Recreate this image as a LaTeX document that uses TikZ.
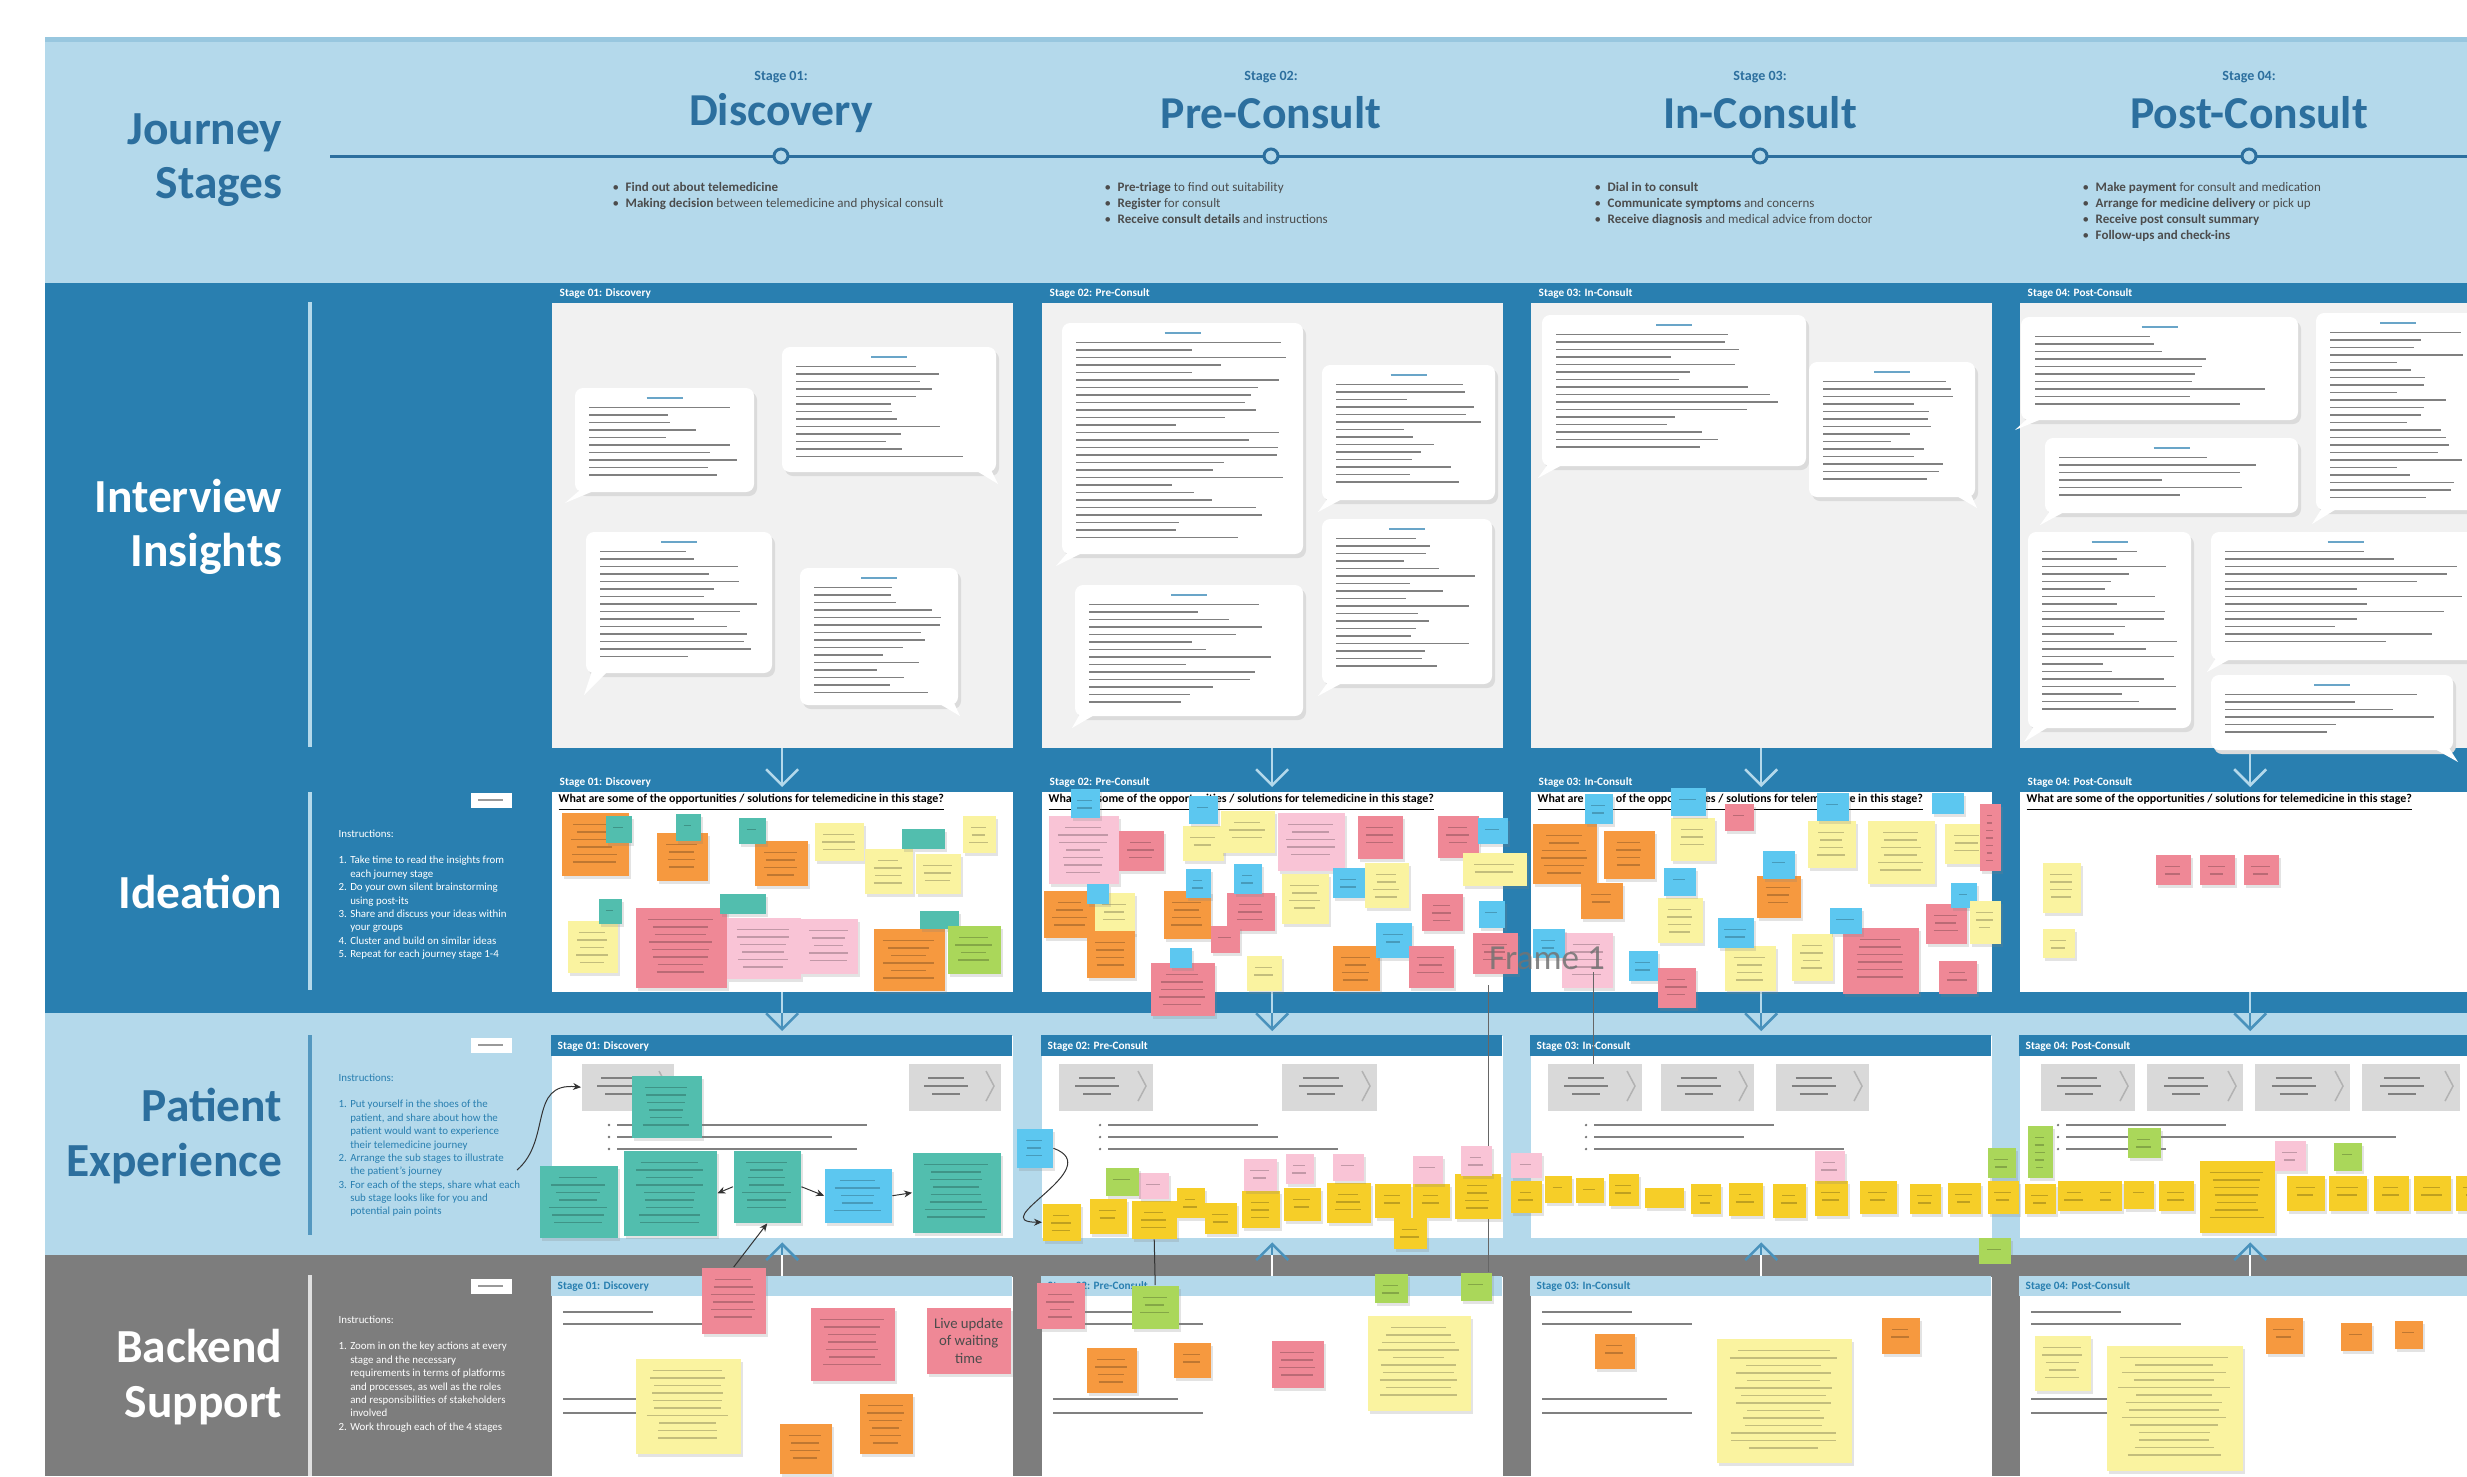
\documentclass[tikz,border=0pt]{standalone}
\usepackage{fontspec}
\setmainfont{Carlito}
\usetikzlibrary{arrows.meta,shadows}
\definecolor{claro}{RGB}{180,217,235}
\definecolor{oscuro}{RGB}{41,127,176}
\definecolor{gris}{RGB}{125,125,125}
\definecolor{titulo}{RGB}{44,111,158}
\definecolor{fondo}{RGB}{241,241,241}
\definecolor{naranja}{RGB}{246,153,63}
\definecolor{verdeazul}{RGB}{82,190,174}
\definecolor{amarillo}{RGB}{250,243,160}
\definecolor{rojo}{RGB}{239,136,150}
\definecolor{rosa}{RGB}{249,196,214}
\definecolor{celeste}{RGB}{92,199,240}
\definecolor{verde}{RGB}{170,215,90}
\definecolor{oro}{RGB}{246,206,40}
\definecolor{cajagris}{RGB}{217,217,217}
% notas adhesivas
\newcommand\notas[2]{%
  \foreach \xa/\ya/\xb/\yb/\cl [count=\nn] in {#2}{%
    \pgfmathsetmacro\nw{(\xb-\xa)/10}\pgfmathsetmacro\nh{(\yb-\ya)/10}%
    \node[nota=\cl,minimum width=\nw mm,minimum height=\nh mm] (#1\nn) at (\xa,\ya) {};
    \pgfmathtruncatemacro\nt{(\yb-\ya-14)/7.5}%
    \ifnum\nt>0
      \foreach \tl in {1,...,\nt}{\pgfmathsetmacro\lg{(\xb-\xa-12)*(.28+.17*rnd)}
        \draw[black,opacity=.22,line width=.11mm] ({(\xa+\xb)/2-\lg},\ya+5+\tl*7.5) -- ({(\xa+\xb)/2+\lg},\ya+5+\tl*7.5);}
    \fi}}
% globos de texto
\newcommand\globo[7]{%
  \fill[black!14,rounded corners=.8mm] (#1+3,#2+4) rectangle (#3+3,#4+4);
  \fill[white,rounded corners=.8mm] (#1,#2) rectangle (#3,#4);
  \fill[white] (#5,#4-2) -- (#6,#7) -- (#5+16,#4-2) -- cycle;
  \draw[linea,oscuro!70] ({(#1+#3)/2-18},#2+10) -- ++(36,0);
  \pgfmathtruncatemacro\nl{(#4-#2-24)/7.5}
  \foreach \li in {1,...,\nl}{\pgfmathsetmacro\lg{(#3-#1-28)*(.45+.55*rnd)}
    \draw[linea] (#1+14,#2+12+\li*7.5) -- ++(\lg,0);}}
\newcommand\puntos[4]{%
  \foreach \yy/\ll in {1125/#2,1137/#3,1149/#4}{
    \fill[black!55] (#1-8,\yy) circle[radius=.13mm];
    \draw[linea] (#1,\yy) -- ++(\ll,0);}}
\begin{document}
\begin{tikzpicture}[x=.1mm,y=-.1mm,
  marco/.style={inner sep=0pt,anchor=north west,minimum width=46.1mm},
  nota/.style={fill=#1,inner sep=0pt,anchor=north west,
    drop shadow={opacity=.22,shadow xshift=.25mm,shadow yshift=-.35mm}},
  caja/.style={fill=cajagris,inner sep=0pt,anchor=north west,minimum height=4.7mm},
  linea/.style={black!50,line width=.16mm},
  flecha/.style={-{Straight Barb[length=1.6mm,width=3.2mm]},line width=.25mm},
  conn/.style={black!80,line width=.1mm,-{Stealth[length=.8mm,width=.7mm]}},
  etiqueta/.style={font=\fontsize{13.5}{15.4}\selectfont\bfseries,align=right,anchor=east,inner sep=0pt},
  instr/.style={font=\fontsize{3.1}{3.8}\selectfont,align=left,anchor=north west,inner sep=0pt},
  vinetas/.style={font=\fontsize{3.7}{4.55}\selectfont,text=black!70,align=left,anchor=north west,inner sep=0pt},
  rotulo/.style={font=\fontsize{3.2}{4}\selectfont\bfseries,inner sep=0pt,anchor=south west}]
\useasboundingbox (0,0) rectangle (2467,1476);
\clip (0,0) rectangle (2467,1476);
\pgfmathsetseed{7}
% Bandas
\fill[claro] (45,37) rectangle (2467,283);
\fill[claro!80!oscuro] (45,37) rectangle (2467,42);
\fill[oscuro] (45,283) rectangle (2467,1013);
\fill[claro] (45,1013) rectangle (2467,1255);
\fill[gris] (45,1255) rectangle (2467,1476);
\coordinate (banda) at (45,1013);
\coordinate (banda2) at (45,1255);
% Rotulos
\node[etiqueta,text=titulo] (lj) at (283,160) {Journey\\Stages};
\node[etiqueta,text=white] (li) at (283,527) {Interview\\Insights};
\node[etiqueta,text=white] (ld) at (283,892) {Ideation};
\node[etiqueta,text=titulo] (lp) at (283,1136) {Patient\\Experience};
\node[etiqueta,text=white] (lb) at (283,1377) {Backend\\Support};
\draw[claro,line width=.35mm] (310,302) -- (310,747) (310,792) -- (310,990);
\draw[oscuro!80,line width=.35mm] (310,1035) -- (310,1235);
\draw[black!12,line width=.35mm] (310,1275) -- (310,1476);
% Etapas
\draw[titulo,line width=.3mm] (330,156) -- (2467,156);
\foreach \cx/\num/\nom [count=\nn] in {781/01/Discovery,1271/02/Pre-Consult,1760/03/In-Consult,2249/04/Post-Consult}{
  \node[font=\fontsize{4}{5}\selectfont\bfseries,text=titulo] (sn\nn) at (\cx,77) {Stage \num:};
  \node[font=\fontsize{13}{15}\selectfont\bfseries,text=titulo] (st\nn) at (\cx,113) {\nom};
  \filldraw[fill=claro,draw=titulo,line width=.3mm] (\cx,156) circle[radius=.7mm];
}
\node[vinetas] (v1) at (612,182) {\textbullet\enspace\textbf{Find out about telemedicine}\\
  \textbullet\enspace\textbf{Making decision} between telemedicine and physical consult};
\node[vinetas] (v2) at (1104,182) {\textbullet\enspace\textbf{Pre-triage} to find out suitability\\
  \textbullet\enspace\textbf{Register} for consult\\
  \textbullet\enspace\textbf{Receive consult details} and instructions};
\node[vinetas] (v3) at (1594,182) {\textbullet\enspace\textbf{Dial in to consult}\\
  \textbullet\enspace\textbf{Communicate symptoms} and concerns\\
  \textbullet\enspace\textbf{Receive diagnosis} and medical advice from doctor};
\node[vinetas] (v4) at (2082,182) {\textbullet\enspace\textbf{Make payment} for consult and medication\\
  \textbullet\enspace\textbf{Arrange for medicine delivery} or pick up\\
  \textbullet\enspace\textbf{Receive post consult summary}\\
  \textbullet\enspace\textbf{Follow-ups and check-ins}};
% Marcos
\foreach \x/\nom [count=\nn] in {551/Stage 01: Discovery,1041/Stage 02: Pre-Consult,1530/Stage 03: In-Consult,2019/Stage 04: Post-Consult}{
  \node[marco,fill=fondo,minimum height=44.5mm] (ins\nn) at (\x,302) {};
  \node[marco,fill=white,minimum height=20mm] (ide\nn) at (\x,791) {};
  \node[marco,fill=white,minimum height=20.2mm] (pat\nn) at (\x,1035) {};
  \fill[oscuro] (pat\nn.north west) rectangle ++(461,21);
  \node[marco,fill=white,minimum height=20mm] (bak\nn) at (\x,1276) {};
  \fill[claro] (bak\nn.north west) rectangle ++(461,20);
  \node[rotulo,text=white] (ti\nn) at (\x+8,299) {\nom};
  \node[rotulo,text=white] (td\nn) at (\x+8,788) {\nom};
  \node[rotulo,text=white,anchor=west] (tp\nn) at (\x+6,1046) {\nom};
  \node[rotulo,text=oscuro,anchor=west] (tb\nn) at (\x+6,1286) {\nom};
  \node[font=\fontsize{3.4}{4}\selectfont\bfseries,inner sep=0pt,anchor=west] (pq\nn) at (\x+7,803)
    {\underline{What are some of the opportunities / solutions for telemedicine in this stage?}};
  \draw[flecha,claro] (ins\nn.south) -- ([yshift=.4mm]ide\nn.north);
  \draw[claro,line width=.25mm] (ide\nn.south) -- (ide\nn.south |- banda);
  \draw[flecha,oscuro!85] (ide\nn.south |- banda) -- ([yshift=.4mm]pat\nn.north);
  \draw[white,line width=.25mm] (bak\nn.north) -- (bak\nn.north |- banda2);
  \draw[flecha,oscuro!85] (bak\nn.north |- banda2) -- ([yshift=-.4mm]pat\nn.south);
  \draw[linea] (\x+12,1312) -- ++(90,0) (\x+12,1324) -- ++(150,0)
    (\x+12,1399) -- ++(125,0) (\x+12,1413) -- ++(150,0);
}
% Botones e instrucciones
\foreach \yy [count=\nn] in {792,1037,1278}{
  \node[fill=white,inner sep=0pt,anchor=north west,minimum width=4.1mm,minimum height=1.5mm] (bt\nn) at (470,\yy) {};
  \draw[black!40,line width=.12mm] (478,\yy+8) -- ++(25,0);
}
\node[instr,text=white] (in1) at (338,829) {Instructions:\\[3.8pt]
  1. Take time to read the insights from\\ \phantom{1. }each journey stage\\
  2. Do your own silent brainstorming\\ \phantom{2. }using post-its\\
  3. Share and discuss your ideas within\\ \phantom{3. }your groups\\
  4. Cluster and build on similar ideas\\
  5. Repeat for each journey stage 1-4};
\node[instr,text=oscuro] (in2) at (338,1073) {Instructions:\\[3.8pt]
  1. Put yourself in the shoes of the\\ \phantom{1. }patient, and share about how the\\
  \phantom{1. }patient would want to experience\\ \phantom{1. }their telemedicine journey\\
  2. Arrange the sub stages to illustrate\\ \phantom{2. }the patient's journey\\
  3. For each of the steps, share what each\\ \phantom{3. }sub stage looks like for you and\\
  \phantom{3. }potential pain points};
\node[instr,text=white] (in3) at (338,1315) {Instructions:\\[3.8pt]
  1. Zoom in on the key actions at every\\ \phantom{1. }stage and the necessary\\
  \phantom{1. }requirements in terms of platforms\\ \phantom{1. }and processes, as well as the roles\\
  \phantom{1. }and responsibilities of stakeholders\\ \phantom{1. }involved\\
  2. Work through each of the 4 stages};
% Entrevistas
\globo{575}{388}{754}{492}{580}{565}{503}
\globo{782}{347}{996}{472}{975}{998}{484}
\globo{586}{532}{772}{673}{592}{584}{695}
\globo{800}{568}{958}{705}{938}{960}{716}
\globo{1062}{323}{1303}{554}{1068}{1056}{566}
\globo{1322}{365}{1495}{500}{1328}{1318}{512}
\globo{1075}{585}{1303}{716}{1080}{1072}{728}
\globo{1322}{519}{1492}{684}{1328}{1318}{696}
\globo{1542}{315}{1806}{466}{1548}{1538}{478}
\globo{1809}{362}{1975}{497}{1955}{1977}{508}
\globo{2021}{317}{2298}{420}{2028}{2015}{430}
\globo{2045}{438}{2298}{513}{2050}{2040}{525}
\globo{2316}{313}{2480}{510}{2322}{2312}{524}
\globo{2028}{532}{2191}{728}{2034}{2024}{742}
\globo{2211}{532}{2480}{660}{2216}{2207}{672}
\globo{2211}{675}{2453}{750}{2433}{2458}{762}
% Ideacion
\notas{ia}{561/812/628/875/naranja,605/815/631/842/verdeazul,656/832/707/880/naranja,675/813/700/840/verdeazul,
  754/840/807/885/naranja,738/817/765/843/verdeazul,814/822/863/860/amarillo,864/848/912/893/amarillo,
  901/828/944/848/verdeazul,915/853/960/893/amarillo,962/815/995/852/amarillo,567/920/617/972/amarillo,
  598/898/621/923/verdeazul,635/907/726/987/rojo,726/917/800/978/rosa,719/893/765/913/verdeazul,
  800/918/857/973/rosa,873/928/944/990/naranja,919/910/958/928/verdeazul,947/925/1000/973/verde}
\notas{ib}{1048/815/1118/883/rosa,1070/788/1099/817/celeste,1118/830/1163/870/rojo,1182/825/1223/860/amarillo,
  1188/795/1217/823/celeste,1220/810/1274/852/amarillo,1277/812/1344/870/rosa,1357/815/1402/858/rojo,
  1437/815/1478/857/rojo,1477/817/1507/843/celeste,1462/852/1526/885/amarillo,1043/890/1096/937/naranja,
  1094/892/1134/933/amarillo,1086/883/1108/903/celeste,1086/930/1134/977/naranja,1163/890/1210/938/naranja,
  1185/868/1210/897/celeste,1226/892/1274/930/rojo,1233/863/1261/893/celeste,1210/925/1239/952/rojo,
  1150/962/1214/1015/rojo,1169/947/1191/967/celeste,1246/955/1281/990/amarillo,1281/873/1328/923/amarillo,
  1332/867/1364/897/celeste,1364/862/1408/907/amarillo,1421/893/1462/930/rojo,1478/900/1504/927/celeste,
  1332/945/1379/990/naranja,1375/922/1411/957/celeste,1408/945/1453/987/rojo,1472/932/1517/973/rojo}
\notas{ic}{1532/823/1596/883/naranja,1584/793/1612/823/celeste,1603/830/1654/878/naranja,1580/882/1622/918/naranja,
  1670/817/1714/860/amarillo,1670/787/1705/815/celeste,1724/803/1753/830/rojo,1657/897/1702/942/amarillo,
  1663/867/1695/895/celeste,1756/875/1800/917/naranja,1762/850/1794/878/celeste,1807/820/1855/867/amarillo,
  1816/792/1848/820/celeste,1867/820/1934/883/amarillo,1944/823/1989/863/amarillo,1931/792/1963/813/celeste,
  1979/803/2000/870/rojo,1925/903/1966/943/rojo,1950/882/1976/907/celeste,1969/900/2000/943/amarillo,
  1724/945/1775/990/amarillo,1717/917/1753/947/celeste,1791/933/1832/980/amarillo,1842/927/1918/993/rojo,
  1829/907/1861/933/celeste,1938/960/1976/993/rojo,1561/932/1612/987/rosa,1532/928/1564/957/celeste,
  1628/950/1657/980/celeste,1657/967/1695/1007/rojo}
\notas{id}{2155/854/2190/884/rojo,2199/854/2234/884/rojo,2243/854/2278/884/rojo,2042/862/2080/912/amarillo,
  2042/928/2074/957/amarillo}
\node[font=\fontsize{10}{12}\selectfont,text=black!55,opacity=.85] (fr) at (1547,958) {Frame 1};
\draw[black!60,line width=.1mm] (1488,985) -- (1488,1272) (1593,972) -- (1593,1078);
% Experiencia del paciente
\foreach \xa/\xb [count=\nn] in {581/673,908/1000,1058/1152,1281/1376,1547/1641,1660/1753,1775/1868,
  2040/2134,2146/2242,2254/2349,2361/2459}{
  \pgfmathsetmacro\nw{(\xb-\xa)/10}
  \node[caja,minimum width=\nw mm] (cg\nn) at (\xa,1063) {};
  \draw[black!30,line width=.15mm] (\xb-14,1071) -- (\xb-6,1086) -- (\xb-14,1101);
  \draw[linea,line width=.13mm] ({(\xa+\xb)/2-26},1078) -- ++(36,0) ({(\xa+\xb)/2-30},1086) -- ++(44,0)
    ({(\xa+\xb)/2-22},1094) -- ++(28,0);
}
\puntos{617}{250}{215}{240}
\puntos{1108}{150}{170}{230}
\puntos{1594}{180}{150}{250}
\puntos{2066}{160}{330}{100}
\notas{pt}{631/1075/701/1137/verdeazul,539/1165/617/1237/verdeazul,623/1150/716/1235/verdeazul,
  733/1150/800/1222/verdeazul,824/1168/891/1222/celeste,912/1152/1000/1232/verdeazul,1016/1128/1052/1167/celeste}
\notas{pb}{1042/1203/1080/1240/oro,1089/1198/1126/1233/oro,1131/1200/1176/1238/oro,1176/1187/1204/1217/oro,
  1204/1202/1236/1233/oro,1241/1190/1279/1227/oro,1283/1187/1320/1220/oro,1326/1182/1370/1222/oro,
  1374/1183/1410/1217/oro,1412/1183/1449/1217/oro,1454/1173/1500/1218/oro,1393/1217/1426/1248/oro,
  1138/1172/1168/1198/rosa,1243/1158/1276/1190/rosa,1285/1153/1313/1183/rosa,1332/1153/1363/1180/rosa,
  1412/1155/1442/1183/rosa,1460/1145/1491/1175/rosa,1105/1167/1138/1195/verde}
\notas{pc}{1510/1152/1541/1177/rosa,1510/1180/1541/1212/oro,1544/1175/1571/1202/oro,1575/1177/1603/1202/oro,
  1608/1173/1638/1205/oro,1644/1187/1683/1207/oro,1690/1183/1720/1213/oro,1728/1182/1762/1215/oro,
  1772/1183/1805/1217/oro,1814/1180/1847/1215/oro,1814/1150/1844/1180/rosa,1859/1180/1896/1213/oro,
  1909/1183/1940/1213/oro,1947/1182/1980/1213/oro,1987/1147/2015/1177/verde,1987/1180/2018/1213/oro,
  1978/1237/2010/1263/verde}
\notas{pd}{2027/1125/2052/1177/verde,2024/1183/2055/1213/oro,2057/1180/2090/1210/oro,2090/1180/2121/1210/oro,
  2123/1180/2153/1208/oro,2127/1127/2160/1157/verde,2158/1180/2193/1210/oro,2199/1160/2274/1232/oro,
  2274/1140/2305/1170/rosa,2286/1175/2324/1210/oro,2333/1142/2361/1170/verde,2328/1175/2366/1210/oro,
  2373/1175/2408/1210/oro,2413/1175/2450/1210/oro,2455/1175/2490/1210/oro}
% Soporte
\notas{ka}{701/1267/765/1333/rojo,810/1307/894/1380/rojo,635/1358/740/1453/amarillo,779/1423/831/1473/naranja,
  859/1393/912/1453/naranja}
\node[nota=rojo,minimum width=8.4mm,minimum height=6.6mm,font=\fontsize{4.2}{5}\selectfont,text=black!70,
  align=center] (kl) at (926,1307) {Live update\\of waiting\\time};
\notas{kb}{1036/1282/1084/1328/rojo,1131/1285/1178/1328/verde,1086/1347/1136/1392/naranja,1173/1342/1210/1377/naranja,
  1271/1340/1323/1387/rojo,1367/1315/1470/1410/amarillo,1374/1273/1407/1302/verde,1460/1272/1491/1300/verde}
\notas{kc}{1594/1333/1634/1368/naranja,1716/1338/1851/1462/amarillo,1881/1317/1919/1353/naranja}
\notas{kd}{2034/1335/2090/1390/amarillo,2106/1345/2242/1470/amarillo,2265/1317/2302/1353/naranja,
  2340/1322/2371/1350/naranja,2394/1320/2422/1348/naranja}
% Conectores
\coordinate (ci) at (517,1170);
\draw[conn] (ci) .. controls (552,1140) and (528,1082) .. (cg1.west);
\draw[conn] (pt4.west) -- (pt3.east);
\draw[conn] (pt4.east) -- (pt5.west);
\draw[conn] (pt5.east) -- (pt6.west);
\draw[conn] (pt7.east) to[out=-20,in=180,looseness=2] (pb1.west);
\draw[conn] (ka1.north) -- (pt4.south);
\draw[conn,-] (pb3.south) -- (kb2.north);
\end{tikzpicture}
\end{document}
